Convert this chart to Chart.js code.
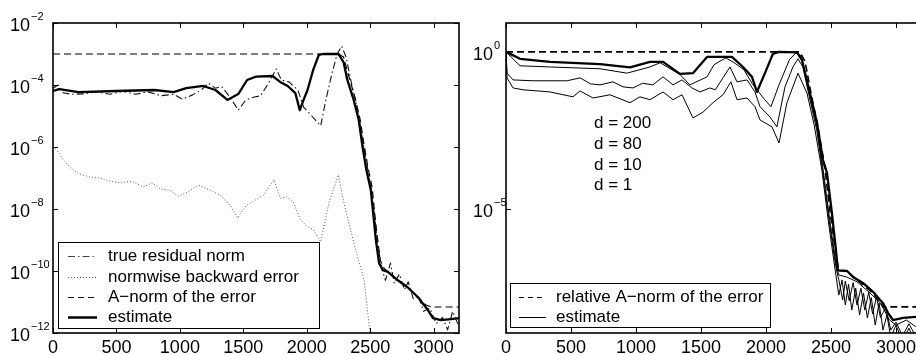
<!DOCTYPE html>
<html>
<head>
<meta charset="utf-8">
<script src="https://cdn.jsdelivr.net/npm/chart.js@4"></script>
<style>
  html, body { margin: 0; padding: 0; background: #fff; overflow: hidden; }
  body { width: 916px; height: 355px; position: relative; }
  canvas { position: absolute; top: 0; }
  #left { left: 0; }
  #right { left: 456px; }
</style>
</head>
<body>
<canvas id="left" width="462" height="355"></canvas>
<canvas id="right" width="470" height="355"></canvas>
<script>
// ---- data ----
const xTicks = [0, 500, 1000, 1500, 2000, 2500, 3000];

// left panel
const leftYTicks = [1e-12, 1e-10, 1e-8, 1e-6, 1e-4, 1e-2];
const leftYExp = ['\u221212', '\u221210', '\u22128', '\u22126', '\u22124', '\u22122'];
const leftLegend = ['true residual norm', 'normwise backward error', 'A\u2212norm of the error', 'estimate'];

const resX = [0, 40, 80, 150, 250, 350, 450, 550, 650, 750, 850, 950, 1020, 1100, 1170, 1225, 1280, 1330, 1400, 1460, 1520, 1580, 1635, 1690, 1760, 1800, 1860, 1930, 1975, 2040, 2110, 2150, 2200, 2240, 2275, 2310, 2350, 2400, 2440, 2475, 2515, 2560, 2590, 2620, 2660, 2690, 2730, 2770, 2800, 2840, 2880, 2920, 2970, 3020, 3070, 3110, 3150, 3200];
const resY = [7.9e-5, 1e-4, 5.6e-5, 5.0e-5, 5.2e-5, 6e-5, 5e-5, 6.3e-5, 5e-5, 6e-5, 4.5e-5, 5e-5, 3.5e-5, 4.8e-5, 7e-5, 1.15e-4, 7.9e-5, 8.9e-5, 3.8e-5, 1.55e-5, 3.3e-5, 4e-5, 4.5e-5, 1e-4, 3.3e-4, 1.45e-4, 1.26e-4, 6.9e-5, 1.95e-5, 1e-5, 4.8e-6, 3.2e-5, 2.5e-4, 1e-3, 1.8e-3, 7.9e-4, 1.26e-4, 1.6e-5, 1.7e-6, 2.6e-7, 2.8e-8, 6.9e-10, 1.26e-10, 5e-11, 1.8e-10, 4e-11, 7.9e-11, 2.5e-11, 4.5e-11, 1.26e-11, 1.6e-11, 5e-12, 6.3e-12, 2e-12, 3.2e-12, 1.26e-12, 5e-12, 1.6e-12];

const bwX = [0, 30, 80, 134, 200, 292, 371, 450, 530, 620, 711, 780, 845, 920, 988, 1060, 1146, 1240, 1320, 1400, 1453, 1520, 1596, 1660, 1740, 1793, 1840, 1896, 1950, 2000, 2055, 2110, 2175, 2250, 2292, 2372, 2452, 2490, 2510];
const bwY = [1e-6, 7.9e-7, 4e-7, 2.2e-7, 1.4e-7, 1.07e-7, 1e-7, 7.9e-8, 6.9e-8, 7.9e-8, 5.1e-8, 7e-8, 4.5e-8, 4e-8, 2.6e-8, 3.5e-8, 5.9e-8, 4e-8, 2.8e-8, 1.26e-8, 5.1e-9, 1.26e-8, 1.95e-8, 2.8e-8, 8.7e-8, 2.2e-8, 2.5e-8, 1.6e-8, 4.5e-9, 2.8e-9, 2.1e-9, 8.7e-10, 1.6e-8, 1.26e-7, 1.6e-8, 7.9e-10, 5e-11, 2.1e-12, 5e-13];

const errX = [0, 2250, 2290, 2330, 2380, 2420, 2450, 2480, 2515, 2550, 2580, 2610, 2650, 2720, 2800, 2880, 2940, 2980, 3200];
const errY = [1e-3, 1e-3, 8e-4, 2e-4, 4e-5, 8e-6, 1.3e-6, 2.5e-7, 5e-8, 2e-9, 2.2e-10, 1.2e-10, 9e-11, 5e-11, 2.8e-11, 1.4e-11, 8e-12, 6.9e-12, 6.9e-12];

const estX = [0, 50, 200, 500, 800, 950, 1050, 1185, 1280, 1375, 1460, 1530, 1600, 1730, 1790, 1850, 1910, 1945, 1975, 2006, 2050, 2095, 2130, 2250, 2290, 2320, 2370, 2410, 2440, 2470, 2505, 2545, 2570, 2600, 2640, 2715, 2795, 2875, 2955, 2995, 3057, 3136, 3200];
const estY = [6.4e-5, 7.4e-5, 5.9e-5, 6.4e-5, 6.9e-5, 5.9e-5, 7.9e-5, 9.3e-5, 6.9e-5, 3.3e-5, 5.1e-5, 1.45e-4, 1.86e-4, 1.95e-4, 1.26e-4, 9.3e-5, 5.5e-5, 1.55e-5, 3.3e-5, 6.9e-5, 3.0e-4, 9.3e-4, 1.0e-3, 1.0e-3, 5.5e-4, 1.45e-4, 3.3e-5, 7.4e-6, 1e-6, 1.8e-7, 4.1e-8, 1e-9, 1.8e-10, 1.07e-10, 9.3e-11, 5.1e-11, 3.0e-11, 1.45e-11, 5.5e-12, 3.0e-12, 2.6e-12, 2.8e-12, 3.0e-12];

// right panel
const rightYTicks = [1, 1e-5];
const rightYExp = ['0', '\u22125'];
const rightLegend = ['relative A\u2212norm of the error', 'estimate'];
const delayLabels = ['d = 200', 'd = 80', 'd = 10', 'd = 1'];

const relX = [0, 2260, 2300, 2350, 2400, 2450, 2490, 2530, 2560, 2630, 2700, 2800, 2870, 2900, 3200];
const relY = [1, 1, 0.5, 0.04, 4e-3, 2.5e-4, 1e-5, 6e-7, 1.1e-7, 1e-7, 5.5e-8, 2.5e-8, 1.2e-8, 7.6e-9, 7.6e-9];

const d200X = [0, 108, 340, 723, 954, 1107, 1208, 1338, 1438, 1546, 1669, 1738, 1823, 1892, 1930, 1992, 2053, 2100, 2238, 2276, 2338, 2392, 2438, 2469, 2507, 2538, 2553, 2622, 2669, 2746, 2823, 2900, 2938, 2977, 3054, 3130, 3200];
const d200Y = [1.0, 0.60, 0.48, 0.41, 0.32, 0.48, 0.48, 0.20, 0.21, 0.69, 0.69, 0.69, 0.33, 0.16, 0.053, 0.21, 0.86, 1.0, 0.96, 0.56, 0.049, 5.5e-3, 3.6e-4, 1.4e-4, 7.4e-6, 4.9e-7, 1.1e-7, 1.07e-7, 6.8e-8, 4.4e-8, 2.3e-8, 1.0e-8, 4.9e-9, 2.9e-9, 3.4e-9, 3.6e-9, 3.8e-9];

const d80X = [0, 108, 340, 723, 930, 1107, 1185, 1338, 1415, 1546, 1600, 1690, 1746, 1830, 1892, 1930, 1990, 2038, 2100, 2180, 2230, 2270, 2330, 2390, 2440, 2490, 2540, 2560, 2620, 2700, 2800, 2880, 2950, 3000, 3080, 3150, 3200];
const d80Y = [1.0, 0.36, 0.33, 0.29, 0.21, 0.33, 0.45, 0.19, 0.089, 0.16, 0.39, 0.64, 0.48, 0.27, 0.10, 0.062, 0.030, 0.018, 0.089, 0.56, 0.93, 0.75, 0.053, 4.8e-3, 1.7e-4, 4.5e-6, 1.6e-7, 7.9e-8, 6.8e-8, 4.8e-8, 2.1e-8, 1.0e-8, 2.9e-9, 2.0e-9, 2.9e-9, 1.8e-9, 2e-9];

const d10X = [0, 8, 54, 208, 469, 570, 650, 723, 823, 900, 977, 1050, 1130, 1208, 1285, 1354, 1430, 1492, 1569, 1610, 1669, 1723, 1777, 1854, 1915, 1954, 2030, 2084, 2146, 2207, 2246, 2284, 2330, 2390, 2440, 2490, 2535, 2560, 2590, 2610, 2640, 2670, 2700, 2730, 2760, 2790, 2820, 2850, 2880, 2920, 2960, 3000, 3050, 3100, 3150, 3200];
const d10Y = [1.0, 0.21, 0.128, 0.12, 0.12, 0.149, 0.096, 0.089, 0.111, 0.077, 0.071, 0.10, 0.089, 0.16, 0.089, 0.128, 0.071, 0.053, 0.071, 0.062, 0.149, 0.33, 0.111, 0.128, 0.053, 0.018, 8.5e-3, 4.1e-3, 0.077, 0.33, 0.60, 0.33, 0.043, 3.3e-3, 1.2e-4, 3.1e-6, 1.6e-7, 5.5e-8, 1.26e-8, 5e-8, 1.2e-8, 4.5e-8, 8.7e-9, 3.0e-8, 6e-9, 2.2e-8, 4.5e-9, 1.6e-8, 3.5e-9, 7e-9, 1.4e-9, 2.5e-9, 9e-10, 2.2e-9, 9e-10, 1.4e-9];

const d1X = [0, 8, 54, 131, 338, 515, 570, 669, 800, 954, 1030, 1107, 1208, 1285, 1354, 1438, 1515, 1592, 1669, 1730, 1777, 1854, 1915, 1954, 2046, 2100, 2161, 2246, 2315, 2370, 2430, 2480, 2530, 2560, 2585, 2610, 2635, 2660, 2690, 2720, 2750, 2780, 2810, 2840, 2870, 2900, 2930, 2960, 3000, 3050, 3100, 3150, 3200];
const d1Y = [1.0, 0.149, 0.071, 0.062, 0.053, 0.037, 0.057, 0.034, 0.043, 0.024, 0.037, 0.030, 0.053, 0.030, 0.043, 7.9e-3, 0.012, 0.024, 0.043, 0.111, 0.030, 0.034, 0.018, 6.8e-3, 4.1e-3, 1.26e-3, 0.024, 0.21, 0.049, 4.8e-3, 1.7e-4, 3.9e-6, 1.3e-7, 1.8e-8, 5.5e-8, 8.7e-9, 4e-8, 6e-9, 3e-8, 4.2e-9, 2.1e-8, 3.4e-9, 1.5e-8, 2e-9, 1e-8, 1.4e-9, 4.2e-9, 8e-10, 2e-9, 6e-10, 1.6e-9, 5e-10, 1e-9];

// ---- helpers ----
const FONT = '"Liberation Sans", Arial, sans-serif';

function pts(xs, ys) {
    return xs.map((x, i) => ({ x: x, y: ys[i] }));
}

function series(xs, ys, color, width, dash) {
    return {
        data: pts(xs, ys),
        borderColor: color,
        borderWidth: width,
        borderDash: dash || [],
        pointRadius: 0,
        tension: 0,
        fill: false,
        borderJoinStyle: 'round'
    };
}

// frame, inward ticks, tick labels, legend box and notes
function framePlugin(spec) {
    return {
        id: 'frame',
        afterDraw(chart) {
            const ctx = chart.ctx;
            const a = chart.chartArea;
            const xs = chart.scales.x, ys = chart.scales.y;
            ctx.save();
            ctx.strokeStyle = '#000';
            ctx.fillStyle = '#000';
            ctx.setLineDash([]);

            // ticks
            ctx.lineWidth = 1;
            ctx.beginPath();
            xTicks.forEach(v => {
                const px = Math.round(xs.getPixelForValue(v)) + 0.5;
                ctx.moveTo(px, a.bottom); ctx.lineTo(px, a.bottom - 5);
                ctx.moveTo(px, a.top); ctx.lineTo(px, a.top + 5);
            });
            spec.yTicks.forEach(v => {
                const py = Math.round(ys.getPixelForValue(v)) + 0.5;
                ctx.moveTo(a.left, py); ctx.lineTo(a.left + 5, py);
                ctx.moveTo(a.right, py); ctx.lineTo(a.right - 5, py);
            });
            ctx.stroke();

            // box
            ctx.lineWidth = 1.6;
            ctx.strokeRect(a.left, a.top, a.right - a.left, a.bottom - a.top);

            // x labels
            ctx.font = '18px ' + FONT;
            ctx.textAlign = 'center';
            ctx.textBaseline = 'alphabetic';
            xTicks.forEach(v => ctx.fillText(String(v), xs.getPixelForValue(v), 353));

            // y labels as 10 with a raised exponent
            ctx.textAlign = 'left';
            spec.yTicks.forEach((v, i) => {
                const py = ys.getPixelForValue(v);
                ctx.font = '18px ' + FONT;
                ctx.fillText('10', spec.baseX, py + 8);
                ctx.font = '11px ' + FONT;
                ctx.fillText(spec.yExp[i], spec.baseX + 21, py - 3);
            });

            // legend
            const L = spec.legend;
            ctx.fillStyle = '#fff';
            ctx.fillRect(L.x, L.y, L.w, L.h);
            ctx.lineWidth = 1;
            ctx.strokeStyle = '#000';
            ctx.strokeRect(L.x + 0.5, L.y + 0.5, L.w, L.h);
            ctx.font = '17px ' + FONT;
            ctx.textBaseline = 'middle';
            L.items.forEach((it, i) => {
                const cy = L.rowY[i];
                ctx.save();
                ctx.strokeStyle = it.color;
                ctx.lineWidth = it.width;
                ctx.setLineDash(it.dash || []);
                ctx.beginPath();
                ctx.moveTo(L.lineX0, cy + 0.5);
                ctx.lineTo(L.lineX1, cy + 0.5);
                ctx.stroke();
                ctx.restore();
                ctx.fillStyle = '#000';
                ctx.fillText(it.label, L.textX, cy);
            });

            // free notes
            (spec.notes || []).forEach(n => {
                ctx.fillText(n.text, n.x, n.y);
            });
            ctx.restore();
        }
    };
}

function makeChart(id, datasets, yMin, yMax, padding, spec) {
    return new Chart(document.getElementById(id), {
        type: 'line',
        data: { datasets: datasets },
        options: {
            responsive: false,
            animation: false,
            devicePixelRatio: 1,
            layout: { padding: padding },
            scales: {
                x: { type: 'linear', min: 0, max: 3200, display: false },
                y: { type: 'logarithmic', min: yMin, max: yMax, display: false }
            },
            plugins: { legend: { display: false }, tooltip: { enabled: false } }
        },
        plugins: [framePlugin(spec)]
    });
}

// ---- left panel ----
const leftSets = [
    series(bwX, bwY, '#555', 1, [1, 2]),
    series(resX, resY, '#111', 1.1, [7, 3, 1.5, 3]),
    series(errX, errY, '#000', 1.2, [7, 4]),
    series(estX, estY, '#000', 2.3)
];
makeChart('left', leftSets, 1e-12, 1e-2, { left: 53, right: 3, top: 23, bottom: 22 }, {
    yTicks: leftYTicks,
    yExp: leftYExp,
    baseX: 10,
    legend: {
        x: 58, y: 242, w: 261, h: 86,
        rowY: [256, 277, 297, 317],
        lineX0: 68, lineX1: 97, textX: 108,
        items: [
            { label: leftLegend[0], color: '#444', width: 1, dash: [7, 3, 1.5, 3] },
            { label: leftLegend[1], color: '#666', width: 1, dash: [1, 2] },
            { label: leftLegend[2], color: '#111', width: 1, dash: [6, 4] },
            { label: leftLegend[3], color: '#000', width: 2.5 }
        ]
    }
});

// ---- right panel ----
const rightSets = [
    series(d1X, d1Y, '#000', 1),
    series(d10X, d10Y, '#000', 1),
    series(d80X, d80Y, '#000', 1),
    series(relX, relY, '#000', 1.6, [7, 4]),
    series(d200X, d200Y, '#000', 2.3)
];
makeChart('right', rightSets, 1.12e-9, 8.3, { left: 50, right: 4, top: 23, bottom: 22 }, {
    yTicks: rightYTicks,
    yExp: rightYExp,
    baseX: 17,
    legend: {
        x: 54, y: 283, w: 260, h: 44,
        rowY: [297, 317],
        lineX0: 63, lineX1: 90, textX: 100,
        items: [
            { label: rightLegend[0], color: '#000', width: 1, dash: [5, 4] },
            { label: rightLegend[1], color: '#000', width: 1 }
        ]
    },
    notes: [
        { text: delayLabels[0], x: 138, y: 123 },
        { text: delayLabels[1], x: 138, y: 144 },
        { text: delayLabels[2], x: 138, y: 165 },
        { text: delayLabels[3], x: 138, y: 185 }
    ]
});
</script>
</body>
</html>
